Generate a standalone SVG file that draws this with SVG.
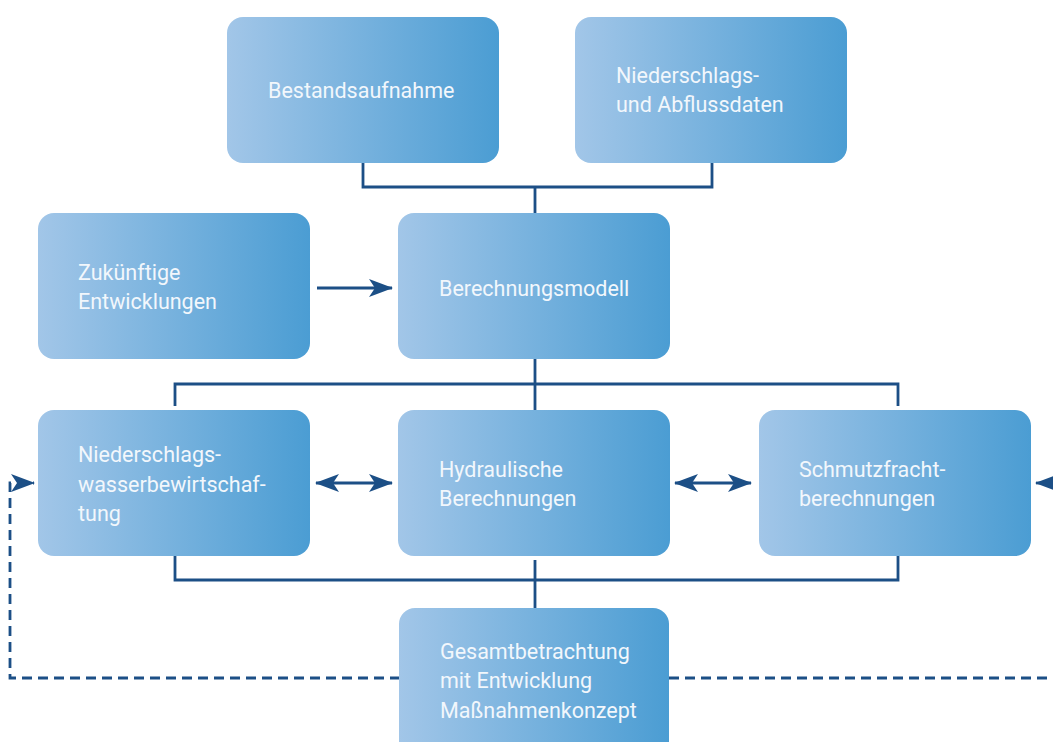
<svg xmlns="http://www.w3.org/2000/svg" width="1053" height="742" viewBox="0 0 1053 742">
<defs>
<linearGradient id="g" x1="0" y1="0" x2="1" y2="0">
<stop offset="0" stop-color="#a2c6e8"/>
<stop offset="1" stop-color="#4b9dd3"/>
</linearGradient>
<marker id="ah2" viewBox="0 0 24 18" refX="23" refY="9" markerWidth="24" markerHeight="18" orient="auto-start-reverse" markerUnits="userSpaceOnUse">
<path d="M0,0 L24,9 L0,18 L6,9 Z" fill="#1c4f86"/>
</marker>
</defs>
<style>
.box{fill:url(#g)}
.t{font-family:Roboto,"Liberation Sans",sans-serif;font-size:21.5px;fill:#f2f7fc}
.c{fill:none;stroke:#1c4f86;stroke-width:2.8}
.d{fill:none;stroke:#1c4f86;stroke-width:2.8;stroke-dasharray:10,6}
</style>
<rect width="1053" height="742" fill="#ffffff"/>
<g id="connectors">
<path class="c" d="M363,162 V187 H712 V162 M535,187 V213"/>
<path class="c" d="M317,288 H392" marker-end="url(#ah2)"/>
<path class="c" d="M535,358 V410 M175,406 V384 H898 V406"/>
<path class="c" d="M316,483 H392" marker-start="url(#ah2)" marker-end="url(#ah2)"/>
<path class="c" d="M675,483 H751" marker-start="url(#ah2)" marker-end="url(#ah2)"/>
<path class="c" d="M175,555 V580 H898 V555 M535,560 V608"/>
<path class="d" d="M400,678 H10 V483 H34" marker-end="url(#ah2)"/>
<path class="d" d="M669,678 H1053"/>
<path class="c" d="M1053,483 H1036" marker-end="url(#ah2)"/>
</g>
<g id="n1"><rect class="box" x="227" y="17" width="272" height="146" rx="16"/><text class="t" x="268" y="98">Bestandsaufnahme</text></g>
<g id="n2"><rect class="box" x="575" y="17" width="272" height="146" rx="16"/><text class="t" x="616" y="83">Niederschlags-</text><text class="t" x="616" y="112">und Abflussdaten</text></g>
<g id="n3"><rect class="box" x="38" y="213" width="272" height="146" rx="16"/><text class="t" x="78" y="280">Zukünftige</text><text class="t" x="78" y="309">Entwicklungen</text></g>
<g id="n4"><rect class="box" x="398" y="213" width="272" height="146" rx="16"/><text class="t" x="439" y="296">Berechnungsmodell</text></g>
<g id="n5"><rect class="box" x="38" y="410" width="272" height="146" rx="16"/><text class="t" x="78" y="462">Niederschlags-</text><text class="t" x="78" y="492">wasserbewirtschaf-</text><text class="t" x="78" y="521">tung</text></g>
<g id="n6"><rect class="box" x="398" y="410" width="272" height="146" rx="16"/><text class="t" x="439" y="477">Hydraulische</text><text class="t" x="439" y="506">Berechnungen</text></g>
<g id="n7"><rect class="box" x="759" y="410" width="272" height="146" rx="16"/><text class="t" x="799" y="477">Schmutzfracht-</text><text class="t" x="799" y="506">berechnungen</text></g>
<g id="n8"><rect class="box" x="399" y="608" width="270" height="160" rx="16"/><text class="t" x="440" y="659">Gesamtbetrachtung</text><text class="t" x="440" y="688">mit Entwicklung</text><text class="t" x="440" y="718">Maßnahmenkonzept</text></g>
</svg>
